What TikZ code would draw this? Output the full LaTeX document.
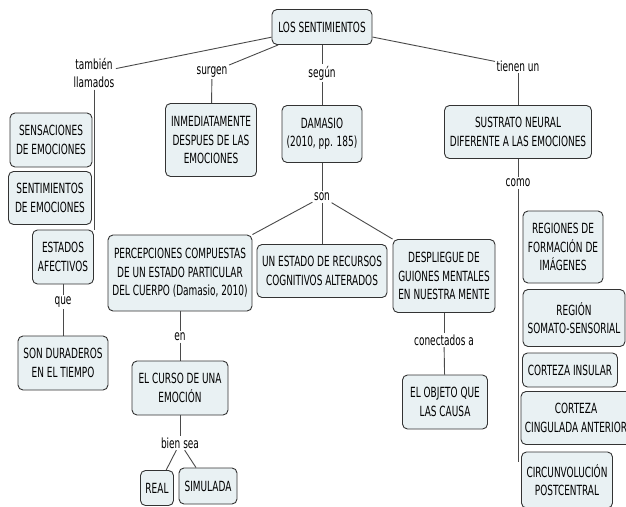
\documentclass[tikz,border=0pt]{standalone}
\usepackage{fontspec}
\setmainfont{DejaVu Sans}[FakeStretch=0.64]
\usetikzlibrary{backgrounds}
\definecolor{boxfill}{HTML}{E9F1F3}
\definecolor{linec}{HTML}{4A4A4A}
\newcommand{\fs}{\fontsize{14}{18.5}\selectfont}
\begin{document}
\begin{tikzpicture}[x=1pt,y=-1pt,
  box/.style={draw=black!80, fill=boxfill, rounded corners=5pt, line width=0.9pt, align=center, inner sep=2pt, font=\fs},
  lbl/.style={align=center, inner sep=1.5pt, font=\fs},
  conn/.style={draw=linec, line width=0.9pt}]
\useasboundingbox (0,0) rectangle (626,506);

% concepts
\node[box, minimum width=100, minimum height=35] (los) at (322,27) {LOS SENTIMIENTOS};
\node[box, minimum width=82, minimum height=54] (sens) at (51,140) {SENSACIONES\\DE EMOCIONES};
\node[box, minimum width=83, minimum height=53] (sentim) at (50,198) {SENTIMIENTOS\\DE EMOCIONES};
\node[box, minimum width=61, minimum height=54] (estados) at (63,257) {ESTADOS\\AFECTIVOS};
\node[box, minimum width=90, minimum height=54] (sondur) at (63,363) {SON DURADEROS\\EN EL TIEMPO};
\node[box, minimum width=91, minimum height=73] (inmed) at (211,140) {INMEDIATAMENTE\\DESPUES DE LAS\\EMOCIONES};
\node[box, minimum width=80, minimum height=57] (damasio) at (322,134) {DAMASIO\\(2010, pp. 185)};
\node[box, minimum width=144, minimum height=76] (percep) at (180,273) {PERCEPCIONES COMPUESTAS\\DE UN ESTADO PARTICULAR\\DEL CUERPO (Damasio, 2010)};
\node[box, minimum width=130, minimum height=53] (unestado) at (322,271) {UN ESTADO DE RECURSOS\\COGNITIVOS ALTERADOS};
\node[box, minimum width=102, minimum height=73] (despl) at (444,276) {DESPLIEGUE DE\\GUIONES MENTALES\\EN NUESTRA MENTE};
\node[box, minimum width=85, minimum height=54] (objeto) at (445,402) {EL OBJETO QUE\\LAS CAUSA};
\node[box, minimum width=96, minimum height=54] (curso) at (180,388) {EL CURSO DE UNA\\EMOCIÓN};
\node[box, minimum width=33, minimum height=35] (real) at (157,488) {REAL};
\node[box, minimum width=58, minimum height=36] (simulada) at (208,486) {SIMULADA};
\node[box, minimum width=147, minimum height=53] (sustrato) at (518,132) {SUSTRATO NEURAL\\DIFERENTE A LAS EMOCIONES};
\node[box, minimum width=80, minimum height=72] (regiones) at (563,247) {REGIONES DE\\FORMACIÓN DE\\IMÁGENES};
\node[box, minimum width=102, minimum height=57] (region) at (574,318) {REGIÓN\\SOMATO-SENSORIAL};
\node[box, minimum width=95, minimum height=34] (insular) at (570,370) {CORTEZA INSULAR};
\node[box, minimum width=110, minimum height=53] (cingulada) at (576,418) {CORTEZA\\CINGULADA ANTERIOR};
\node[box, minimum width=91, minimum height=56] (circun) at (567,480) {CIRCUNVOLUCIÓN\\POSTCENTRAL};

% link labels
\node[lbl] (tam) at (94,73) {también\\llamados};
\node[lbl] (que) at (63,302) {que};
\node[lbl] (surgen) at (212,72) {surgen};
\node[lbl] (segun) at (322,73) {según};
\node[lbl] (son) at (322,197) {son};
\node[lbl] (conect) at (444,340) {conectados a};
\node[lbl] (en) at (180,337) {en};
\node[lbl] (bien) at (180,443) {bien sea};
\node[lbl] (tienen) at (518,66) {tienen un};
\node[lbl] (como) at (518,183) {como};
\coordinate (comoend) at (518,462);

\begin{scope}[on background layer]
\fill[white] (0,0) rectangle (626,506);
\draw[conn] (los) -- (tam);
\draw[conn] (tam.south) -- (tam.south |- estados.north);
\draw[conn] (estados) -- (que);
\draw[conn] (que) -- (sondur);
\draw[conn] (los) -- (surgen);
\draw[conn] (surgen) -- (inmed);
\draw[conn] (los) -- (segun);
\draw[conn] (segun) -- (damasio);
\draw[conn] (damasio) -- (son);
\draw[conn] (son) -- (percep.north east);
\draw[conn] (son) -- (unestado);
\draw[conn] (son) -- (despl.north west);
\draw[conn] (despl) -- (conect);
\draw[conn] (conect) -- (objeto);
\draw[conn] (percep) -- (en);
\draw[conn] (en) -- (curso);
\draw[conn] (curso) -- (bien);
\draw[conn] (bien) -- (real);
\draw[conn] (bien) -- (simulada);
\draw[conn] (los) -- (tienen);
\draw[conn] (tienen) -- (sustrato);
\draw[conn] (sustrato) -- (como);
\draw[conn] (como) -- (comoend);
\end{scope}
\end{tikzpicture}
\end{document}
